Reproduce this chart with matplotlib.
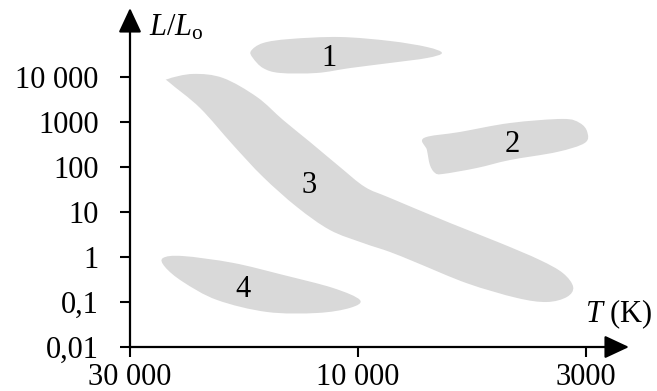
import numpy as np
import matplotlib
matplotlib.use("Agg")
import matplotlib.pyplot as plt
from matplotlib.path import Path
from matplotlib.patches import PathPatch, FancyArrowPatch, ArrowStyle
from matplotlib.ticker import NullLocator

plt.rcParams['font.family'] = ['Liberation Serif', 'DejaVu Serif']
plt.rcParams['mathtext.fontset'] = 'custom'
plt.rcParams['mathtext.rm'] = 'Liberation Serif'
plt.rcParams['mathtext.it'] = 'Liberation Serif:italic'

# ---- data (temperature in K, luminosity in L/Lo) ----
x_ticks = [30000, 10000, 3000]
x_tick_labels = ['30 000', '10 000', '3000']
y_ticks = [0.01, 0.1, 1, 10, 100, 1000, 10000]
y_tick_labels = ['0,01', '0,1', '1', '10', '100', '1000', '10 000']

# region 1 : supergiants
T1 = [16750, 15800, 13880, 10910, 8440, 6950, 6420, 6950, 8440, 10390, 12180, 14560, 15800, 16590]
L1 = [37800, 56900, 69900, 77400, 63100, 46400, 34200, 26400, 20500, 15800, 12300, 12300, 15800, 26400]
# region 2 : giants
T2 = [7060, 5840, 4480, 3390, 3100, 2980, 3020, 3500, 4480, 5340, 6390, 6660, 6840, 6950]
L2 = [441, 600, 950, 1170, 950, 600, 342, 215, 143, 95, 70, 74, 111, 239]
# region 3 : main sequence
T3 = [24980, 22140, 19160, 16270, 14350, 12600, 10910, 9640, 8440, 6150, 4720, 3830, 3390, 3210,
      3320, 3690, 4320, 5620, 7320, 8440, 9740, 11450, 13420, 15800, 18260, 21410, 24740]
L3 = [9030, 11700, 9500, 3590, 1110, 359, 100, 36, 20.5, 5.7, 2.05, 0.86, 0.44, 0.215,
      0.129, 0.1, 0.123, 0.26, 0.74, 1.29, 2.05, 3.98, 12.9, 60, 308, 2050, 7360]
# region 4 : white dwarfs
T4 = [25590, 23240, 18260, 14350, 11280, 9900, 10390, 12180, 15500, 19730, 23240, 25340]
L4 = [0.95, 1.05, 0.74, 0.40, 0.205, 0.111, 0.074, 0.057, 0.06, 0.111, 0.28, 0.60]

region_names = ['1', '2', '3', '4']
label_T = [11500, 4435, 12660, 17400]
label_L = [17550, 215, 26.4, 0.129]

LOG30K = np.log10(30000)
LOG3 = np.log10(3)
LOG103 = np.log10(10 / 3)


# schematic temperature axis: tick labels equally spaced, log within each interval
# (increasing in T; the axis is then inverted by the limits)
def t_fwd(T):
    lt = np.log10(np.clip(np.asarray(T, dtype=float), 1e-9, None))
    u = np.where(lt >= 4, (LOG30K - lt) / LOG3, 1 + (4 - lt) / LOG103)
    return -u


def t_inv(v):
    u = -np.asarray(v, dtype=float)
    return np.where(u <= 1, 10 ** (LOG30K - u * LOG3), 10 ** (4 - (u - 1) * LOG103))


W, H = 657, 391
fig = plt.figure(figsize=(W / 100, H / 100), dpi=100)
ax = fig.add_axes([130 / W, 1 - 347 / H, 510 / W, 347 / H])
ax.set_xscale('function', functions=(t_fwd, t_inv))
ax.set_yscale('log')
ax.set_xlim(30000, float(t_inv(-510 / 228)))
ax.set_ylim(0.01, 514000)
for s in ax.spines.values():
    s.set_visible(False)
ax.patch.set_alpha(0)


def smooth_closed(T, L):
    P = np.column_stack([t_fwd(T), np.log10(L)])
    n = len(P)
    verts = [P[0]]
    codes = [Path.MOVETO]
    for i in range(n):
        p0, p1, p2, p3 = P[i - 1], P[i], P[(i + 1) % n], P[(i + 2) % n]
        verts += [p1 + (p2 - p0) / 6, p2 - (p3 - p1) / 6, p2]
        codes += [Path.CURVE4] * 3
    V = np.array(verts)
    V = np.column_stack([t_inv(V[:, 0]), 10 ** V[:, 1]])
    return Path(V, codes)


grey = '#d9d9d9'
for T, L in [(T1, L1), (T2, L2), (T3, L3), (T4, L4)]:
    ax.add_patch(PathPatch(smooth_closed(T, L), facecolor=grey, edgecolor='none', zorder=1))

for name, t, l in zip(region_names, label_T, label_L):
    ax.text(t, l, name, ha='center', va='baseline', fontsize=22, zorder=3)

ax.set_xticks(x_ticks, x_tick_labels)
ax.set_yticks(y_ticks, y_tick_labels)
ax.xaxis.set_minor_locator(NullLocator())
ax.yaxis.set_minor_locator(NullLocator())
ax.tick_params(axis='both', direction='out', length=7.5, width=1.5, labelsize=22, color='black')
ax.tick_params(axis='y', pad=15)
ax.tick_params(axis='x', pad=4)


def fx(px):
    return px / W


def fy(py):
    return 1 - py / H


style = ArrowStyle('-|>', head_length=0.75, head_width=0.35)
for (x0, y0, x1, y1) in [(130, 348, 130, 8), (129, 347, 629, 347)]:
    arr = FancyArrowPatch((fx(x0), fy(y0)), (fx(x1), fy(y1)), transform=fig.transFigure,
                          arrowstyle=style, mutation_scale=20, lw=1.6, color='black',
                          shrinkA=0, shrinkB=0, clip_on=False)
    fig.add_artist(arr)

fig.text(fx(149), fy(35), r'$L/L_{\mathrm{o}}$', fontsize=22, ha='left', va='baseline')
fig.text(fx(585), fy(322), r'$T$ (K)', fontsize=22, ha='left', va='baseline')

fig.savefig('out.png', dpi=100)
